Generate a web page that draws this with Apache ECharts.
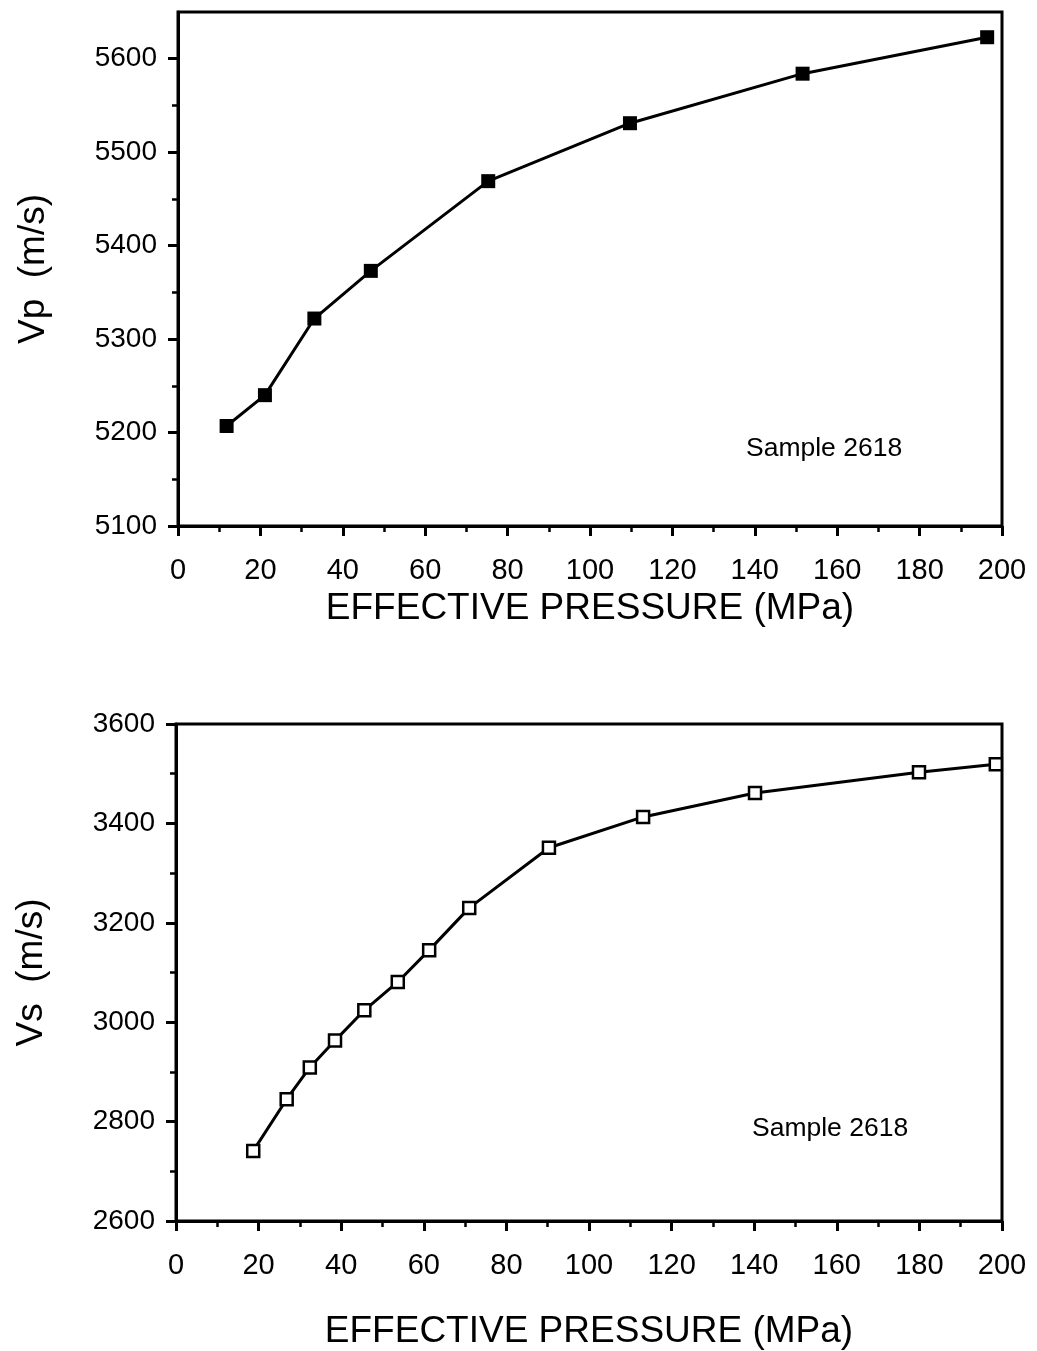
<!DOCTYPE html>
<html>
<head>
<meta charset="utf-8">
<script src="https://cdn.jsdelivr.net/npm/echarts@6/dist/echarts.min.js"></script>
<style>
  html, body { margin: 0; padding: 0; background: #fff; }
  #chart { width: 1037px; height: 1351px; }
</style>
</head>
<body>
<div id="chart"></div>
<script>
// Vp (top panel), filled squares
const vpPressure = [11.8, 21.1, 33.1, 46.8, 75.3, 109.7, 151.6, 196.4]
const vpVelocity = [5207, 5240, 5322, 5373, 5469, 5531, 5584, 5623]

// Vs (bottom panel), open squares
const vsPressure = [18.7, 26.8, 32.4, 38.5, 45.6, 53.7, 61.3, 71.0, 90.3, 113.1, 140.2, 179.9, 198.5]
const vsVelocity = [2741, 2845, 2909, 2963, 3024, 3081, 3145, 3230, 3351, 3413, 3461, 3503, 3519]

// tick values
const vpTicks = [5100, 5200, 5300, 5400, 5500, 5600]
const vpMinorTicks = [5150, 5250, 5350, 5450, 5550]

const FONT = '"Liberation Sans", Arial, Helvetica, sans-serif'
const black = '#000'
const plain = (v) => String(v) // no thousands separator

const pairs = (xs, ys) => xs.map((x, i) => [x, ys[i]])

const xAxisBase = (gridIndex, nameGap) => ({
  type: 'value',
  gridIndex,
  min: 0,
  max: 200,
  interval: 20,
  name: 'EFFECTIVE PRESSURE (MPa)',
  nameLocation: 'middle',
  nameGap,
  nameTextStyle: { fontFamily: FONT, fontSize: 37, color: black },
  axisLine: { show: true, lineStyle: { color: black, width: 3 } },
  axisTick: { show: true, inside: false, length: 10, lineStyle: { color: black, width: 3 } },
  minorTick: { show: true, splitNumber: 2, length: 6, lineStyle: { color: black, width: 2.5 } },
  axisLabel: { fontFamily: FONT, fontSize: 29, color: black, margin: 30, formatter: plain },
  splitLine: { show: false },
})

const chart = echarts.init(document.getElementById('chart'))
chart.setOption({
  backgroundColor: '#fff',
  animation: false,
  grid: [
    { left: 178, top: 12, width: 824, height: 514, show: true, borderColor: black, borderWidth: 3 },
    { left: 176, top: 724, width: 826, height: 498, show: true, borderColor: black, borderWidth: 3 },
  ],
  title: [
    { text: 'Sample 2618', left: 741, top: 430, textStyle: { fontFamily: FONT, fontSize: 26.5, fontWeight: 'normal', color: black } },
    { text: 'Sample 2618', left: 747, top: 1110, textStyle: { fontFamily: FONT, fontSize: 26.5, fontWeight: 'normal', color: black } },
  ],
  xAxis: [xAxisBase(0, 64), xAxisBase(1, 92)],
  yAxis: [
    {
      type: 'value',
      gridIndex: 0,
      position: 'left',
      min: 5100,
      max: 5650,
      interval: 100,
      name: 'Vp  (m/s)',
      nameLocation: 'middle',
      nameGap: 126,
      nameTextStyle: { fontFamily: FONT, fontSize: 37, color: black },
      axisLine: { show: true, lineStyle: { color: black, width: 3 } },
      axisTick: { show: true, length: 10, customValues: vpTicks, lineStyle: { color: black, width: 3 } },
      axisLabel: { fontFamily: FONT, fontSize: 28, color: black, margin: 21, customValues: vpTicks, formatter: plain },
      splitLine: { show: false },
    },
    {
      type: 'value',
      gridIndex: 0,
      position: 'left',
      offset: 0,
      min: 5100,
      max: 5650,
      axisLine: { show: false },
      axisTick: { show: true, length: 6, customValues: vpMinorTicks, lineStyle: { color: black, width: 2.5 } },
      axisLabel: { show: false },
      splitLine: { show: false },
    },
    {
      type: 'value',
      gridIndex: 1,
      min: 2600,
      max: 3600,
      interval: 200,
      name: 'Vs  (m/s)',
      nameLocation: 'middle',
      nameGap: 126,
      nameTextStyle: { fontFamily: FONT, fontSize: 37, color: black },
      axisLine: { show: true, lineStyle: { color: black, width: 3 } },
      axisTick: { show: true, length: 10, lineStyle: { color: black, width: 3 } },
      minorTick: { show: true, splitNumber: 2, length: 6, lineStyle: { color: black, width: 2.5 } },
      axisLabel: { fontFamily: FONT, fontSize: 28, color: black, margin: 21, formatter: plain },
      splitLine: { show: false },
    },
  ],
  series: [
    {
      type: 'line',
      xAxisIndex: 0,
      yAxisIndex: 0,
      data: pairs(vpPressure, vpVelocity),
      symbol: 'rect',
      symbolSize: 14,
      lineStyle: { color: black, width: 3 },
      itemStyle: { color: black },
    },
    {
      type: 'line',
      xAxisIndex: 1,
      yAxisIndex: 2,
      data: pairs(vsPressure, vsVelocity),
      symbol: 'rect',
      symbolSize: 12,
      lineStyle: { color: black, width: 3 },
      itemStyle: { color: '#fff', borderColor: black, borderWidth: 2.5 },
    },
  ],
})
</script>
</body>
</html>
